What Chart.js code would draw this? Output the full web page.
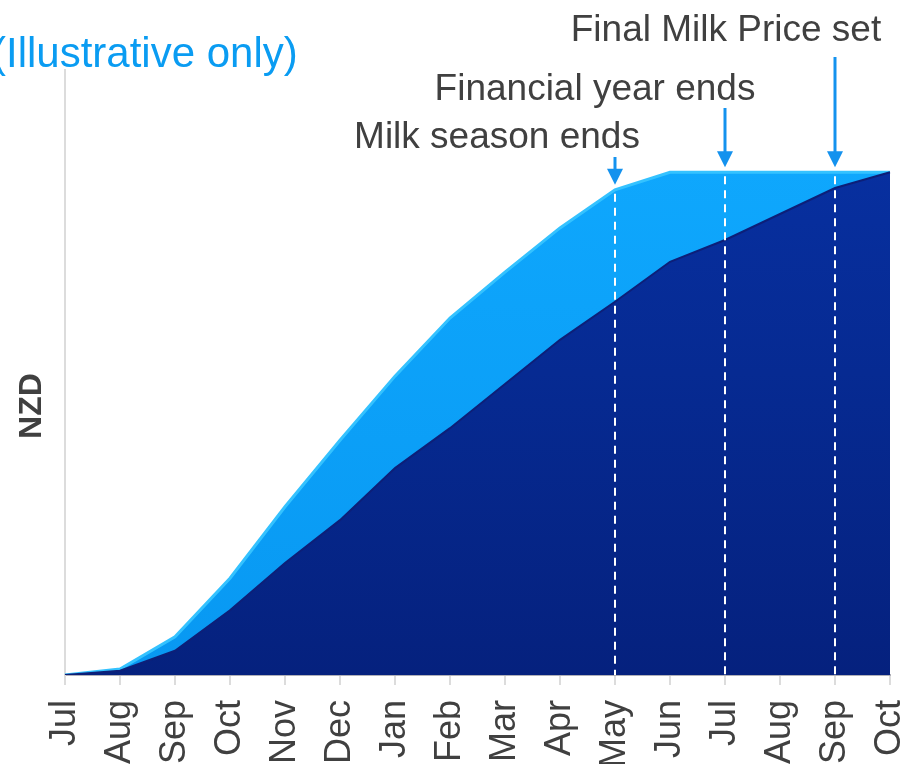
<!DOCTYPE html>
<html>
<head>
<meta charset="utf-8">
<script src="https://cdn.jsdelivr.net/npm/chart.js@4/dist/chart.umd.min.js"></script>
<style>
  html, body { margin: 0; padding: 0; background: #fff; }
  #wrap { width: 905px; height: 764px; position: relative; }
</style>
</head>
<body>
<div id="wrap"><canvas id="chart"></canvas></div>
<script>
// months across two seasons (Jul -> Oct)
const months = ['Jul', 'Aug', 'Sep', 'Oct', 'Nov', 'Dec', 'Jan', 'Feb', 'Mar', 'Apr', 'May', 'Jun', 'Jul', 'Aug', 'Sep', 'Oct'];

// cumulative payments (illustrative, 0-100 scale)
const totalValue = [0, 1.0, 6.3, 16.0, 27.8, 38.8, 49.4, 59.0, 66.6, 73.9, 80.2, 83.1, 83.1, 83.1, 83.1, 83.1];
const paidValue = [0, 0.7, 4.0, 10.7, 18.5, 25.6, 34.2, 40.8, 48.1, 55.4, 61.7, 68.3, 71.9, 76.2, 80.5, 83.1];

// markers: month index + label
const markerIndex = [10, 12, 14];
const markerText = ['Milk season ends', 'Financial year ends', 'Final Milk Price set'];

const FONT = '"Liberation Sans", Arial, sans-serif';

function darkFill(context) {
  const area = context.chart.chartArea;
  if (!area) return '#072a92';
  const g = context.chart.ctx.createLinearGradient(0, area.top, 0, area.bottom);
  g.addColorStop(0, '#0832a6');
  g.addColorStop(0.5, '#062a92');
  g.addColorStop(1, '#05217e');
  return g;
}

function lightFill(context) {
  const area = context.chart.chartArea;
  if (!area) return '#0a9ef6';
  const g = context.chart.ctx.createLinearGradient(0, area.top, 0, area.bottom);
  g.addColorStop(0, '#10aaff');
  g.addColorStop(1, '#0898f2');
  return g;
}

// dashed lines, arrows and texts
const annotations = {
  id: 'annotations',
  afterDatasetsDraw(chart) {
    const ctx = chart.ctx;
    const x = chart.scales.x, y = chart.scales.y;
    ctx.save();
    ctx.strokeStyle = '#ffffff';
    ctx.lineWidth = 2;
    ctx.setLineDash([8, 6]);
    markerIndex.forEach(i => {
      const px = x.getPixelForValue(i);
      ctx.beginPath();
      ctx.moveTo(px, y.getPixelForValue(totalValue[i]) + 4);
      ctx.lineTo(px, y.bottom);
      ctx.stroke();
    });
    ctx.restore();
  },
  afterDraw(chart) {
    const ctx = chart.ctx;
    const x = chart.scales.x, y = chart.scales.y;
    ctx.save();

    // arrows
    const arrowTop = [157, 108, 57];
    ctx.strokeStyle = '#1492ee';
    ctx.fillStyle = '#1492ee';
    ctx.lineWidth = 3;
    markerIndex.forEach((i, k) => {
      const px = x.getPixelForValue(i);
      const tip = y.getPixelForValue(totalValue[i]) - 5;
      ctx.beginPath();
      ctx.moveTo(px, arrowTop[k]);
      ctx.lineTo(px, tip - 14);
      ctx.stroke();
      ctx.beginPath();
      ctx.moveTo(px - 8, tip - 16);
      ctx.lineTo(px + 8, tip - 16);
      ctx.lineTo(px, tip);
      ctx.closePath();
      ctx.fill();
    });

    // marker labels
    ctx.fillStyle = '#404040';
    ctx.font = '37px ' + FONT;
    ctx.textAlign = 'center';
    ctx.textBaseline = 'alphabetic';
    ctx.fillText(markerText[0], 497, 148);
    ctx.fillText(markerText[1], 595, 100);
    ctx.fillText(markerText[2], 726, 41);

    // subtitle
    ctx.fillStyle = '#0a9cf2';
    ctx.font = '42px ' + FONT;
    ctx.textAlign = 'left';
    ctx.fillText('(Illustrative only)', -8, 67);

    // y axis title
    ctx.translate(41, 406);
    ctx.rotate(-Math.PI / 2);
    ctx.fillStyle = '#404040';
    ctx.font = 'bold 32px ' + FONT;
    ctx.textAlign = 'center';
    ctx.fillText('NZD', 0, 0);
    ctx.restore();
  }
};

new Chart(document.getElementById('chart'), {
  type: 'line',
  data: {
    labels: months,
    datasets: [{
      label: 'Paid',
      data: paidValue,
      fill: 'origin',
      backgroundColor: darkFill,
      borderColor: '#0d1f78',
      borderWidth: 2,
      pointRadius: 0,
      tension: 0
    }, {
      label: 'Total',
      data: totalValue,
      fill: 'origin',
      backgroundColor: lightFill,
      borderColor: '#34c2ff',
      borderWidth: 3,
      pointRadius: 0,
      tension: 0
    }]
  },
  options: {
    responsive: true,
    maintainAspectRatio: false,
    animation: false,
    layout: { padding: { top: 70, right: 15, left: 0, bottom: 0 } },
    plugins: {
      legend: { display: false },
      tooltip: { enabled: false }
    },
    scales: {
      x: {
        offset: false,
        grid: { drawOnChartArea: false, drawTicks: true, tickLength: 10, color: '#dcdcdc', lineWidth: 2 },
        border: { display: true, color: '#b0b0b8', width: 2 },
        ticks: {
          autoSkip: false,
          minRotation: 90,
          maxRotation: 90,
          padding: 15,
          color: '#404040',
          font: { family: FONT, size: 36 }
        },
        afterFit: s => { s.height = 89; s.paddingLeft = 0; s.paddingRight = 0; }
      },
      y: {
        min: 0,
        max: 100,
        grid: { display: false },
        border: { display: true, color: '#dcdcdc', width: 2 },
        ticks: { display: false },
        afterFit: s => { s.width = 65; }
      }
    }
  },
  plugins: [annotations]
});
</script>
</body>
</html>
